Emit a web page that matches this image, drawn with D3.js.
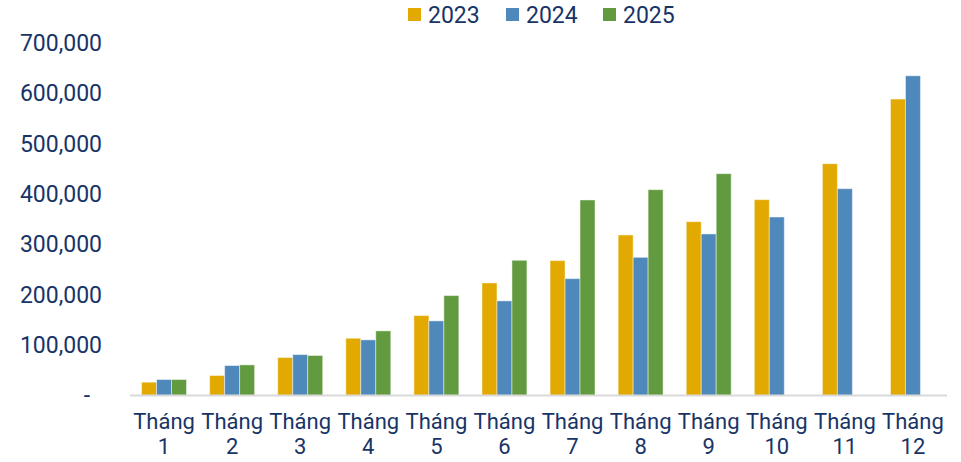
<!DOCTYPE html>
<html>
<head>
<meta charset="utf-8">
<script src="https://cdn.jsdelivr.net/npm/d3@7"></script>
<style>
  body { margin: 0; background: #fff; }
  svg { display: block; font-family: Roboto, "Noto Sans", sans-serif; }
</style>
</head>
<body>
<div id="chartBlock"></div>
<script>
// Data
var months = ["Tháng 1", "Tháng 2", "Tháng 3", "Tháng 4", "Tháng 5", "Tháng 6",
              "Tháng 7", "Tháng 8", "Tháng 9", "Tháng 10", "Tháng 11", "Tháng 12"];
var seriesNames = ["2023", "2024", "2025"];
var values2023 = [26400, 39700, 75400, 113700, 158700, 223600, 267900, 318800, 345200, 388900, 460300, 588700];
var values2024 = [31700, 59500, 81300, 110500, 148200, 187900, 232100, 274400, 320800, 354500, 410700, 634900];
var values2025 = [31700, 60800, 79400, 128300, 198400, 268500, 388300, 408700, 440500, null, null, null];
var yTicks = [0, 100000, 200000, 300000, 400000, 500000, 600000, 700000];

// Colors
const seriesColors = d3.scaleOrdinal()
    .domain(seriesNames)
    .range(["#E2A900", "#4F89BC", "#629A3F"]);
const textColor = "#183466";

var chartWidth = 961, chartHeight = 462;
var plotLeft = 130, plotRight = 947, plotTop = 43, plotBottom = 395.5;

var svg = d3.select("#chartBlock").append("svg")
    .attr("width", chartWidth)
    .attr("height", chartHeight);

var x0 = d3.scaleBand()
    .domain(months)
    .range([plotLeft, plotRight])
    .paddingInner(0.34)
    .paddingOuter(0.17);

var x1 = d3.scaleBand()
    .domain(seriesNames)
    .range([0, x0.bandwidth()]);

var y = d3.scaleLinear()
    .domain([0, 700000])
    .range([plotBottom, plotTop]);

// Flatten rows for drawing
var allValues = [values2023, values2024, values2025];
var rows = [];
months.forEach(function (m, i) {
    seriesNames.forEach(function (s, j) {
        if (allValues[j][i] != null) {
            rows.push({ month: m, series: s, value: allValues[j][i] });
        }
    });
});

// Bars
svg.append("g")
    .selectAll("rect")
    .data(rows)
    .enter().append("rect")
    .attr("x", function (d) { return x0(d.month) + x1(d.series); })
    .attr("y", function (d) { return y(d.value); })
    .attr("width", x1.bandwidth())
    .attr("height", function (d) { return y(0) - y(d.value); })
    .style("fill", function (d) { return seriesColors(d.series); })
    .style("stroke", "rgba(255,255,255,0.45)")
    .style("stroke-width", 1);

// Baseline
svg.append("line")
    .attr("x1", plotLeft)
    .attr("x2", plotRight)
    .attr("y1", y(0))
    .attr("y2", y(0))
    .style("stroke", "#d9d9d9")
    .style("stroke-width", 2);

// Y axis labels
var yAxis = d3.axisLeft(y)
    .tickValues(yTicks)
    .tickSize(0)
    .tickPadding(0)
    .tickFormat(function (d) { return d === 0 ? "-" : d3.format(",")(d); });

var yG = svg.append("g")
    .attr("transform", "translate(102,0)")
    .call(yAxis);
yG.select(".domain").remove();
yG.selectAll("text")
    .style("font-size", "23px")
    .style("font-family", "Roboto, sans-serif")
    .style("fill", textColor)
    .attr("dx", function (d) { return d === 0 ? -12 : 0; });

// X axis labels, two lines
var xG = svg.append("g");
xG.selectAll("text")
    .data(months)
    .enter().append("text")
    .attr("text-anchor", "middle")
    .attr("x", function (d) { return x0(d) + x0.bandwidth() / 2; })
    .attr("y", 429)
    .style("font-size", "22px")
    .style("fill", textColor)
    .each(function (d) {
        var parts = d.split(" ");
        var t = d3.select(this);
        t.append("tspan").attr("x", x0(d) + x0.bandwidth() / 2).text(parts[0]);
        t.append("tspan").attr("x", x0(d) + x0.bandwidth() / 2).attr("dy", 25).text(parts[1]);
    });

// Legend
var legendX = [408, 506, 603];
var legend = svg.append("g")
    .selectAll("g")
    .data(seriesNames)
    .enter().append("g")
    .attr("transform", function (d, i) { return "translate(" + legendX[i] + ",0)"; });

legend.append("rect")
    .attr("x", 0)
    .attr("y", 8)
    .attr("width", 13)
    .attr("height", 13)
    .style("fill", function (d) { return seriesColors(d); });

legend.append("text")
    .attr("x", 20)
    .attr("y", 22.5)
    .style("font-size", "23px")
    .style("fill", textColor)
    .text(function (d) { return d; });
</script>
</body>
</html>
